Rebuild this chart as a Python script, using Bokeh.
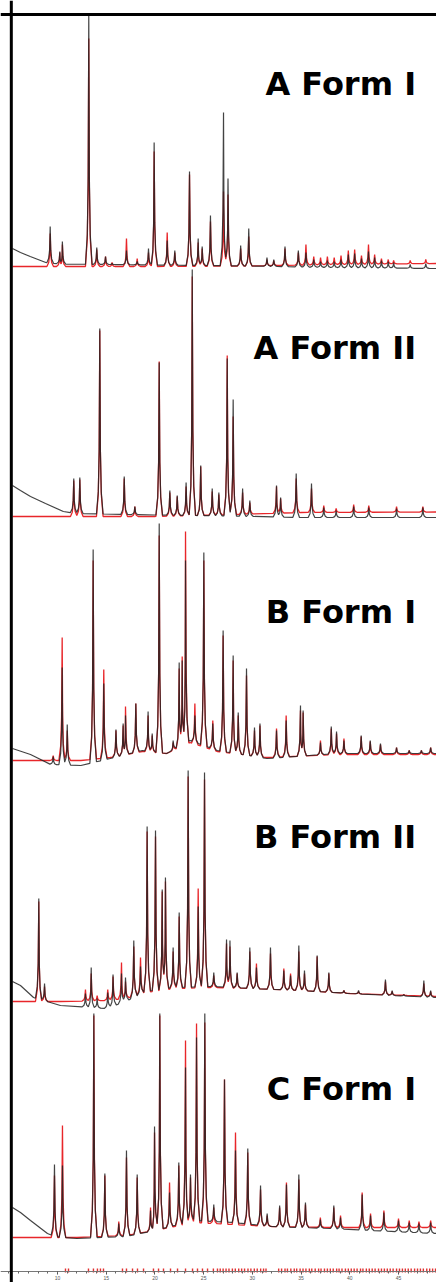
import numpy as np
from bokeh.plotting import figure
from bokeh.models import Range1d, Span, FixedTicker
from bokeh.core.properties import value
from bokeh.embed import file_html
from bokeh.resources import INLINE

# ---------------- data (2-theta in degrees, intensities in arbitrary counts) ----------------
labels = ["A Form I", "A Form II", "B Form I", "B Form II", "C Form I"]

# A Form I
a1_pos = [9.25, 10.24, 10.5, 13.21, 14.03, 14.93, 15.6, 17.08, 18.18, 19.34, 19.92, 21.26, 22.04, 23.55,
          24.44, 24.85, 25.7, 27.04, 27.5, 28.8, 29.63, 31.5, 32.2, 33.35, 34.72, 35.5, 36.3, 37.0, 37.7,
          38.4, 39.1, 39.85, 40.5, 41.2, 41.92, 42.55, 43.25, 43.95, 44.5, 46.2, 47.8]
a1_exp = [40, 15, 25, 251, 19, 10, 3, 16, 5, 18, 124, 26, 16, 95, 28, 20, 51, 154, 88, 21, 38, 9, 7, 20,
          16, 14, 7, 5, 6, 5, 7, 12, 13, 8, 15, 9, 6, 5, 4, 2, 3]
a1_calc = [33, 14, 22, 228, 17, 10, 4, 28, 8, 14, 115, 34, 14, 92, 24, 18, 45, 75, 72, 18, 30, 7, 6, 18,
           14, 22, 10, 9, 10, 9, 11, 16, 17, 11, 22, 12, 8, 7, 6, 6, 7]
a1_bgx = [5.38, 6.2, 7.2, 8.0, 8.8, 10.3, 20, 30, 38, 49]
a1_bg_exp = [18, 14, 10, 7, 4, 2.5, 1.5, 0.5, -1, -2]
a1_bg_calc = [0, 0, 0, 0, 0, 0, 0, 0.5, 2, 3]

# A Form II
a2_pos = [11.67, 12.29, 14.34, 16.85, 17.94, 20.44, 21.53, 22.29, 23.2, 23.83, 24.7, 25.88, 26.56, 27.42,
          28.03, 29.0, 29.74, 32.48, 32.9, 34.5, 36.07, 37.33, 38.6, 40.4, 41.95, 44.8, 47.5]
a2_exp = [38, 39, 188, 40, 10, 154, 26, 21, 34, 247, 51, 28, 24, 158, 117, 28, 16, 31, 19, 43, 33, 9, 6,
          10, 9, 8, 9]
a2_calc = [36, 37, 186, 38, 10, 155, 24, 20, 30, 240, 50, 25, 22, 161, 100, 24, 14, 30, 18, 38, 28, 11, 8,
           12, 11, 10, 10]
a2_bgx = [5.38, 6.2, 7.23, 8.77, 10.6, 12, 20, 28, 35, 49]
a2_bg_exp = [31, 26, 20, 13, 5, 3, 1.5, 0.5, -1, -1]
a2_bg_calc = [0, 0, 0, 0, 0, 0, 0, 2, 4, 4.5]

# B Form I
b1_pos = [9.56, 10.48, 11.0, 13.66, 14.75, 16.0, 16.74, 16.98, 18.04, 19.3, 19.72, 20.44, 21.87, 22.49,
          22.8, 23.14, 24.1, 25.02, 25.94, 27.0, 28.03, 28.55, 29.4, 30.22, 30.78, 32.48, 33.47, 34.94,
          35.21, 36.99, 38.1, 38.64, 39.4, 41.17, 42.1, 43.15, 44.8, 46.1, 47.35, 48.3]
b1_exp = [4, 93, 36, 211, 77, 31, 37, 45, 57, 49, 27, 237, 20, 98, 100, 200, 45, 208, 37, 130, 105, 48,
          92, 33, 37, 30, 40, 55, 50, 18, 34, 29, 20, 25, 20, 17, 13, 10, 10, 13]
b1_calc = [5, 123, 30, 200, 91, 30, 35, 54, 57, 45, 25, 225, 18, 92, 104, 229, 57, 200, 40, 125, 100, 45,
           85, 30, 35, 32, 45, 50, 48, 20, 32, 27, 22, 24, 19, 16, 13, 10, 10, 13]
b1_bgx = [5.38, 7.23, 9.3, 12.4, 15.4, 18.7, 21.2, 23.6, 26.4, 31.5, 38.8, 49]
b1_bg_exp = [12, 6, -4, -5, 2, 10, 7, 20, 10, 2, 7, 7]
b1_bg_calc = [0, 0, 0, 0, 3, 9, 7, 18, 9, 3, 6, 6]

# B Form II
b2_pos = [8.08, 8.67, 12.87, 13.46, 14.07, 15.16, 15.7, 16.57, 16.98, 17.83, 18.52, 19.2, 20.06, 20.75,
          21.08, 21.87, 22.49, 23.41, 24.44, 25.09, 26.04, 27.35, 27.7, 28.44, 29.74, 30.42, 31.86, 33.23,
          33.92, 34.77, 35.35, 36.65, 37.85, 39.4, 40.9, 43.66, 44.35, 45.55, 47.6, 48.3]
b2_exp = [103, 18, 8, 34, 3, 9, 27, 28, 24, 61, 35, 175, 171, 112, 124, 54, 89, 231, 95, 229, 29, 62, 61,
          29, 54, 34, 54, 31, 26, 56, 31, 46, 29, 11, 11, 22, 11, 7, 21, 11]
b2_calc = [100, 15, 12, 28, 6, 12, 25, 39, 20, 55, 44, 170, 165, 110, 120, 50, 85, 225, 113, 222, 26, 58,
           55, 28, 50, 38, 48, 33, 28, 50, 28, 45, 28, 11, 10, 20, 10, 7, 18, 10]
b2_bgx = [5.38, 6.2, 7.54, 10.3, 15, 17, 19, 22, 26, 30, 35, 40, 49]
b2_bg_exp = [20, 16, 4, -4, -7, 0, 10, 14, 15, 13, 11, 8, 4]
b2_bg_calc = [0, 0, 0, 0, 1, 3, 9, 13, 14, 13, 11, 8, 5]

# C Form I
c1_pos = [9.69, 10.51, 13.73, 14.86, 16.29, 17.08, 18.18, 19.55, 19.96, 20.5, 21.5, 22.45, 23.14, 23.65,
          24.27, 25.12, 26.04, 27.14, 28.27, 29.53, 30.84, 31.52, 32.8, 33.5, 34.77, 35.45, 36.98, 38.36,
          39.05, 41.27, 42.13, 43.5, 45.0, 46.1, 47.1, 48.3]
c1_exp = [73, 72, 224, 64, 14, 87, 63, 27, 111, 224, 45, 75, 170, 63, 200, 224, 33, 158, 87, 89, 52, 24,
          32, 53, 63, 35, 18, 32, 20, 43, 22, 25, 17, 15, 14, 15]
c1_calc = [62, 112, 222, 62, 16, 80, 60, 30, 105, 222, 55, 72, 197, 60, 214, 215, 30, 158, 105, 85, 48,
           22, 30, 55, 58, 33, 20, 30, 22, 45, 24, 27, 19, 17, 16, 17]
c1_bgx = [5.38, 6.2, 7.23, 8.97, 9.8, 12, 17, 20, 24, 28, 32, 38, 49]
c1_bg_exp = [30, 25, 17, 4, 0.7, -1, 1, 7, 17, 15, 11, 9, 4]
c1_bg_calc = [0, 0, 0, 0, 0, 0, 2, 7, 15, 13, 11, 10, 10]

# calculated reflection positions (red tick marks on the 2-theta axis)
refl_pos = [10.82, 11.13, 13.18, 13.69, 14.1, 14.41, 14.72, 16.67, 17.08, 17.7, 18.21, 18.83, 19.85,
            20.37, 20.88, 21.6, 22.32, 23.14, 23.86, 24.37, 24.88, 25.4, 26.0, 26.42, 26.7, 27.0, 27.3,
            27.6, 27.95, 28.25, 28.6, 28.9, 29.2, 29.55, 29.85, 30.2, 30.5, 30.85, 31.15, 31.4, 32.7,
            33.0, 33.35, 33.6, 33.95, 34.3, 34.55, 34.9, 35.2, 35.5, 35.85, 36.1, 36.45, 36.8, 37.05,
            37.4, 37.7, 38.0, 38.3, 38.65, 38.9, 39.2, 39.55, 39.85, 40.15, 40.45, 40.75, 41.1, 41.35,
            41.7, 42.0, 42.3, 42.6, 42.95, 43.25, 43.55, 43.85, 44.15, 44.45, 44.8, 45.1, 45.4, 45.7,
            46.0, 46.3, 46.65, 46.95, 47.25, 47.55, 47.9, 48.2, 48.5, 48.8]

major_ticks = [10, 15, 20, 25, 30, 35, 40, 45]

# ---------------- layout constants ----------------
offsets = [1016, 766, 522, 281, 45]          # stacking offset of each pattern
label_dy = [183, 169, 149, 165, 149]          # label baseline above the offset
LABEL_X = 46.8
AXIS_Y = 11
HALF = 0.34                                   # half base width of a drawn peak (deg)

patterns = [
    (a1_pos, a1_exp, a1_calc, a1_bgx, a1_bg_exp, a1_bg_calc),
    (a2_pos, a2_exp, a2_calc, a2_bgx, a2_bg_exp, a2_bg_calc),
    (b1_pos, b1_exp, b1_calc, b1_bgx, b1_bg_exp, b1_bg_calc),
    (b2_pos, b2_exp, b2_calc, b2_bgx, b2_bg_exp, b2_bg_calc),
    (c1_pos, c1_exp, c1_calc, c1_bgx, c1_bg_exp, c1_bg_calc),
]


def build_trace(pos, hts, bgx, bgy):
    pos = list(pos)
    n = len(pos)
    tops = [max(h, float(np.interp(x, bgx, bgy)) + 1) for x, h in zip(pos, hts)]
    pts = []
    spans = []
    for i, x in enumerate(pos):
        top = tops[i]
        # left foot
        if i == 0 or (x - pos[i - 1]) >= 2 * HALF:
            dl = HALF
            xl = x - dl
            yl = float(np.interp(xl, bgx, bgy))
        else:
            gap = x - pos[i - 1]
            dl = gap / 2
            xl = x - dl
            b = float(np.interp(xl, bgx, bgy))
            yl = b + 0.3 * min(top - b, tops[i - 1] - b) * (1 - gap / (2 * HALF))
        # right foot
        if i == n - 1 or (pos[i + 1] - x) >= 2 * HALF:
            dr = HALF
            xr = x + dr
            yr = float(np.interp(xr, bgx, bgy))
        else:
            gap = pos[i + 1] - x
            dr = gap / 2
            xr = x + dr
            b = float(np.interp(xr, bgx, bgy))
            yr = b + 0.3 * min(top - b, tops[i + 1] - b) * (1 - gap / (2 * HALF))
        pts += [(xl, yl),
                (x - 0.45 * dl, yl + 0.12 * (top - yl)),
                (x - 0.18 * dl, yl + 0.35 * (top - yl)),
                (x, top),
                (x + 0.18 * dr, yr + 0.35 * (top - yr)),
                (x + 0.45 * dr, yr + 0.12 * (top - yr)),
                (xr, yr)]
        spans.append((xl, xr))
    for bx, by in zip(bgx, bgy):
        if not any(a <= bx <= b for a, b in spans):
            pts.append((bx, by))
    pts.sort(key=lambda t: t[0])
    return [t[0] for t in pts], [t[1] for t in pts]


p = figure(width=436, height=1282, x_range=Range1d(4.15, 48.9), y_range=Range1d(0, 1282),
           output_backend="svg", toolbar_location=None, min_border=0,
           y_axis_location=None)
p.outline_line_color = None
p.xgrid.visible = False
p.ygrid.visible = False
p.background_fill_color = "white"
p.border_fill_color = "white"

for (pos, hexp, hcalc, bgx, bge, bgc), off in zip(patterns, offsets):
    xs, ys = build_trace(pos, hcalc, bgx, bgc)
    p.line(xs, [y + off for y in ys], line_color="#e8262a", line_width=1.3)
    xs, ys = build_trace(pos, hexp, bgx, bge)
    p.line(xs, [y + off for y in ys], line_color="#222222", line_width=1.2, line_alpha=0.85)

# labels
p.text(x=[LABEL_X] * len(labels), y=[o + d for o, d in zip(offsets, label_dy)], text=labels,
       text_align="right", text_baseline="alphabetic", text_font=value("DejaVu Sans"),
       text_font_style="bold", text_font_size="32px", text_color="black")

# reflection ticks
p.segment(x0=refl_pos, y0=[AXIS_Y - 1] * len(refl_pos), x1=refl_pos, y1=[AXIS_Y + 3] * len(refl_pos),
          line_color="#e03030", line_width=1.4)

# axis
ax = p.xaxis[0]
ax.fixed_location = AXIS_Y
ax.ticker = FixedTicker(ticks=major_ticks, minor_ticks=list(range(5, 49)))
ax.axis_line_color = "#777777"
ax.axis_line_width = 1
ax.major_tick_line_color = "#444444"
ax.minor_tick_line_color = "#666666"
ax.major_tick_in = 0
ax.major_tick_out = 3
ax.minor_tick_in = 0
ax.minor_tick_out = 2
ax.major_label_text_font_size = "5px"
ax.major_label_text_color = "#555555"
ax.major_label_standoff = 1

# frame (top and left thick borders)
p.add_layout(Span(location=5.26, dimension="height", line_color="black", line_width=3))
p.add_layout(Span(location=1268, dimension="width", line_color="black", line_width=3))

open("out.html", "w").write(file_html(p, INLINE))
